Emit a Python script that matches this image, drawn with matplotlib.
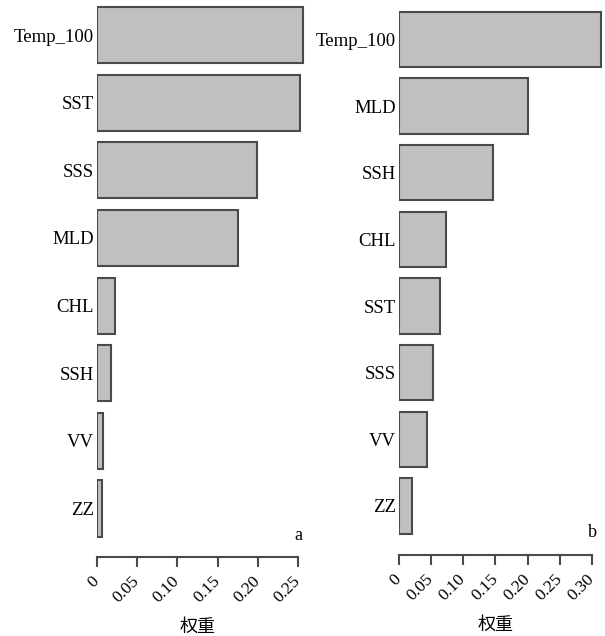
import matplotlib
matplotlib.use('Agg')
import matplotlib.pyplot as plt

plt.rcParams['font.family'] = ['Liberation Serif', 'Noto Sans CJK SC']

# panel a
labels_a = ['Temp_100', 'SST', 'SSS', 'MLD', 'CHL', 'SSH', 'VV', 'ZZ']
vals_a = [0.256, 0.253, 0.199, 0.175, 0.022, 0.017, 0.0075, 0.006]
ticks_a = [0, 0.05, 0.10, 0.15, 0.20, 0.25]
ticklab_a = ['0', '0.05', '0.10', '0.15', '0.20', '0.25']

# panel b
labels_b = ['Temp_100', 'MLD', 'SSH', 'CHL', 'SST', 'SSS', 'VV', 'ZZ']
vals_b = [0.314, 0.200, 0.146, 0.074, 0.064, 0.053, 0.044, 0.021]
ticks_b = [0, 0.05, 0.10, 0.15, 0.20, 0.25, 0.30]
ticklab_b = ['0', '0.05', '0.10', '0.15', '0.20', '0.25', '0.30']

W, H = 605, 636
fig = plt.figure(figsize=(W / 100, H / 100), dpi=100)

# axes placed in pixel units (left, top, width, bottom)
ax_a = fig.add_axes([97 / W, (H - 557) / H, 209 / W, 557 / H])
ax_b = fig.add_axes([398.7 / W, (H - 555) / H, 206.5 / W, 555 / H])


def draw(ax, labels, vals, ticks, ticklab, xmax, ylim, tag):
    y = list(range(len(labels)))
    ax.barh(y, vals, height=0.83, color='#c0c0c0', edgecolor='#4a4a4a', linewidth=1.5)
    ax.set_xlim(0, xmax)
    ax.set_ylim(*ylim)
    ax.set_yticks(y)
    ax.set_yticklabels(labels, fontsize=13.5)
    ax.tick_params(axis='y', length=0, pad=2)
    for s in ['top', 'right', 'left']:
        ax.spines[s].set_visible(False)
    ax.spines['bottom'].set_bounds(ticks[0], ticks[-1])
    ax.spines['bottom'].set_color('#4a4a4a')
    ax.spines['bottom'].set_linewidth(1.5)
    ax.set_xticks(ticks)
    ax.set_xticklabels(ticklab, fontsize=12.5, rotation=45, ha='right',
                       va='center', rotation_mode='anchor')
    ax.tick_params(axis='x', length=7, width=1.5, color='#4a4a4a', pad=9)
    ax.set_xlabel('权重', fontsize=13, family=['Noto Sans CJK SC'])
    ax.xaxis.set_label_coords((ticks[0] + ticks[-1]) / 2 / xmax, -0.11)
    ax.text(ticks[-1], len(labels) - 1 + 0.4, tag, fontsize=13,
            ha='center', va='center')


draw(ax_a, labels_a, vals_a, ticks_a, ticklab_a, 0.26, (7.717, -0.518), 'a')
draw(ax_b, labels_b, vals_b, ticks_b, ticklab_b, 0.32, (7.736, -0.593), 'b')

fig.savefig('out.png', dpi=100)
